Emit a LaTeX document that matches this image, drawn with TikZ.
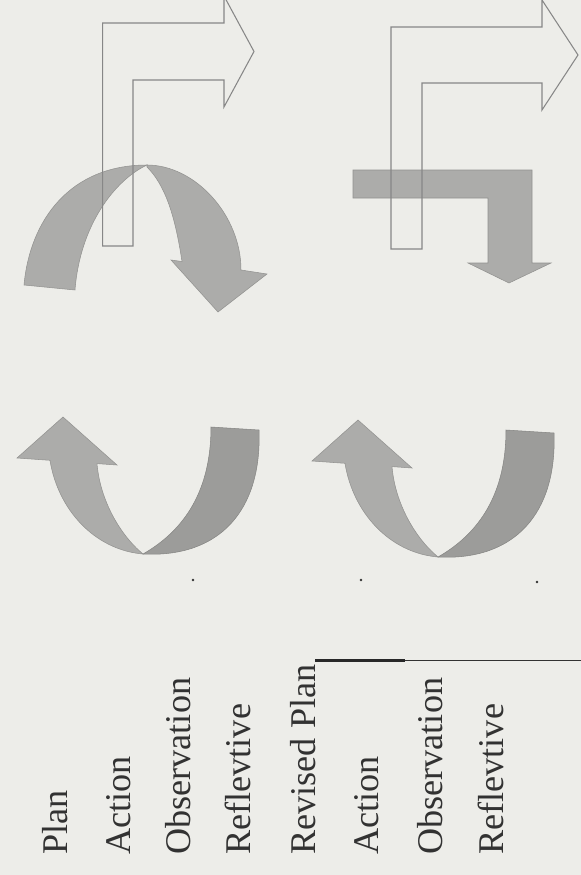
\documentclass[tikz,border=0pt]{standalone}
\usepackage{fontspec}
\setmainfont{Liberation Serif}
\definecolor{paper}{RGB}{237,237,233}
\definecolor{rib}{RGB}{172,172,170}
\definecolor{ribdk}{RGB}{156,156,154}
\definecolor{ink}{RGB}{50,50,50}
\definecolor{edge}{RGB}{135,135,135}

\begin{document}
\begin{tikzpicture}[x=0.02cm,y=-0.02cm,
    outarrow/.style={draw=edge,line width=0.6pt,line join=miter},
    ribbon/.style={fill=rib,draw=rib!85!black,line width=0.3pt},
    ribbondk/.style={fill=ribdk,draw=ribdk!85!black,line width=0.3pt},
    lbl/.style={rotate=90,anchor=base west,inner sep=0pt,text=ink,
                font=\fontsize{20.6}{24}\selectfont}]
    \fill[paper] (0,0) rectangle (581,875);
    \useasboundingbox (0,0) rectangle (581,875);
    \clip (0,0) rectangle (581,875);

    % curved arrow over the top
    \path[ribbon] (24,285) .. controls (30,220) and (70,165) .. (147,165)
      .. controls (115,180) and (80,225) .. (75,290) -- cycle;
    \path[ribbon] (147,165) .. controls (195,165) and (241,215) .. (241,270)
      -- (267,274) -- (218,312) -- (171,260) -- (182,261.5)
      .. controls (175,215) and (165,185) .. (147,167) -- cycle;

    % bent arrow, top right
    \path[ribbon] (353,170) -- (532,170) -- (532,263) -- (551,263) -- (509,283)
      -- (468,263) -- (488,263) -- (488,198) -- (353,198) -- cycle;

    % the two U turns
    \foreach \dx/\dy in {0/0,295/3}{
      \begin{scope}[shift={(\dx,\dy)}]
        \path[ribbondk] (211,427) -- (259,430)
          .. controls (262,510) and (220,558) .. (143,554)
          .. controls (185,530) and (211,490) .. (211,427) -- cycle;
        \path[ribbon] (143,554) .. controls (95,550) and (58,510) .. (50,460.3)
          -- (17,458) -- (63,417) -- (117,465) -- (97,463.6)
          .. controls (100,500) and (120,535) .. (143,554) -- cycle;
      \end{scope}
    }
    \fill[ink] (193,580) circle[radius=1.3];
    \fill[ink] (361,580) circle[radius=1.3];
    \fill[ink] (537,582) circle[radius=1.3];

    % hollow bent arrows
    \draw[outarrow] (102.7,246) -- (102.7,23) -- (224,23) -- (224,-4)
      -- (254,51.5) -- (224,107) -- (224,80) -- (133,80) -- (133,246) -- cycle;
    \draw[outarrow] (391,249) -- (391,27) -- (542,27) -- (542,0)
      -- (578,55) -- (542,110) -- (542,83) -- (422,83) -- (422,249) -- cycle;

    % labels
    \node[lbl] (plan)  at (67,855)  {Plan};
    \node[lbl] (act)   at (130,855) {Action};
    \node[lbl] (obs)   at (190,855) {Observation};
    \node[lbl] (refl)  at (250,855) {Reflevtive};
    \node[lbl] (rplan) at (315,855) {Revised Plan};
    \node[lbl] (act2)  at (378,855) {Action};
    \node[lbl] (obs2)  at (442,855) {Observation};
    \node[lbl] (refl2) at (503,855) {Reflevtive};

    \coordinate (ruleA) at (315,660);
    \coordinate (ruleC) at (405,660);
    \coordinate (ruleB) at (581,660);
    \draw[ink,line width=0.5pt] (ruleA) -- (ruleB);
    \draw[ink!80!black,line width=1.7pt] (ruleA) -- (ruleC);
  \end{tikzpicture}
\end{document}
